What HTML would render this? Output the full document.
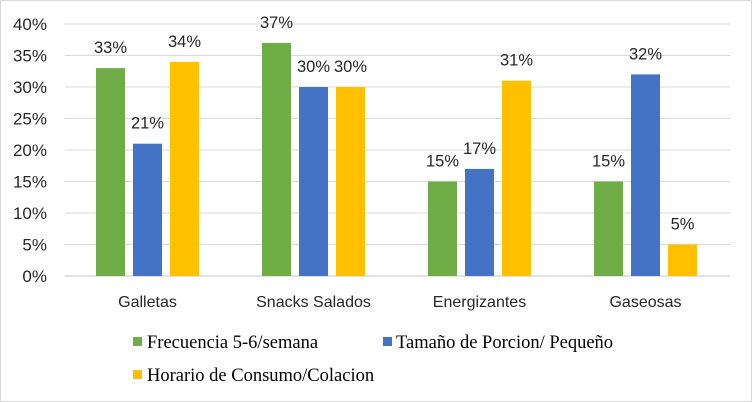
<!DOCTYPE html>
<html><head><meta charset="utf-8"><style>
body{margin:0;background:#fff}
svg{display:block}
text{font-family:"Liberation Sans",sans-serif;fill:#262626}
</style></head><body>
<svg width="752" height="402">
<rect x="0.5" y="0.5" width="751" height="401" fill="#fff" stroke="#d9d9d9"/>
<g id="grid"></g><g id="bars"></g><g id="labels"></g>
<g>
<g><rect x="133" y="337" width="9" height="9" fill="#70ad47"/><text x="147" y="348" style="font-family:'Liberation Serif',serif;fill:#000" font-size="18.5">Frecuencia 5-6/semana</text></g>
<g><rect x="383" y="337" width="9" height="9" fill="#4472c4"/><text x="396" y="348" style="font-family:'Liberation Serif',serif;fill:#000" font-size="18.5">Tamaño de Porcion/ Pequeño</text></g>
<g><rect x="133" y="370" width="9" height="9" fill="#ffc000"/><text x="147" y="381" style="font-family:'Liberation Serif',serif;fill:#000" font-size="18.5">Horario de Consumo/Colacion</text></g>
</g>
</svg>
<script>
const categories=["Galletas","Snacks Salados","Energizantes","Gaseosas"];
const frecuencia=[33,37,15,15];
const tamano=[21,30,17,32];
const horario=[34,30,31,5];
const ticks=[0,5,10,15,20,25,30,35,40];
const series=[{name:"frecuencia",v:frecuencia,c:"#70ad47"},{name:"tamano",v:tamano,c:"#4472c4"},{name:"horario",v:horario,c:"#ffc000"}];
const NS="http://www.w3.org/2000/svg";
const x0=64.5,x1=730,y0=276,yTop=24,maxV=40;
const groupW=(728.5-x0)/categories.length;
const y=v=>y0-(v/maxV)*(y0-yTop);
const xc=i=>x0+groupW*(i+0.5);
function mk(tag,attrs,parent,txt){const e=document.createElementNS(NS,tag);for(const k in attrs)e.setAttribute(k,attrs[k]);if(txt!==undefined)e.textContent=txt;parent.appendChild(e);return e;}
const grid=document.getElementById('grid'),bars=document.getElementById('bars'),labels=document.getElementById('labels');
ticks.forEach(t=>{
  const l=mk('line',{x1:x0,x2:x1,y1:y(t),y2:y(t),stroke:"#d9d9d9","stroke-width":t===0?1.5:1},grid);
  
  
  const tx=mk('text',{x:47,y:y(t)+6,"text-anchor":"end","font-size":17},grid,t+"%");
  
  
});
const bw=29,step=37;
categories.forEach((c,i)=>{
  const ct=mk('text',{x:xc(i),y:307,"text-anchor":"middle","font-size":16},labels,c);
  
  
  series.forEach((s,j)=>{
    const bx=xc(i)+(j-1)*step-bw/2;
    const r=mk('rect',{x:bx,y:y(s.v[i]),width:bw,height:y0-y(s.v[i]),fill:s.c},bars);
    
    
    const vt=mk('text',{x:bx+bw/2,y:y(s.v[i])-15,"text-anchor":"middle","font-size":16.5},labels,s.v[i]+"%");
    
    
  });
});
</script>
</body></html>
